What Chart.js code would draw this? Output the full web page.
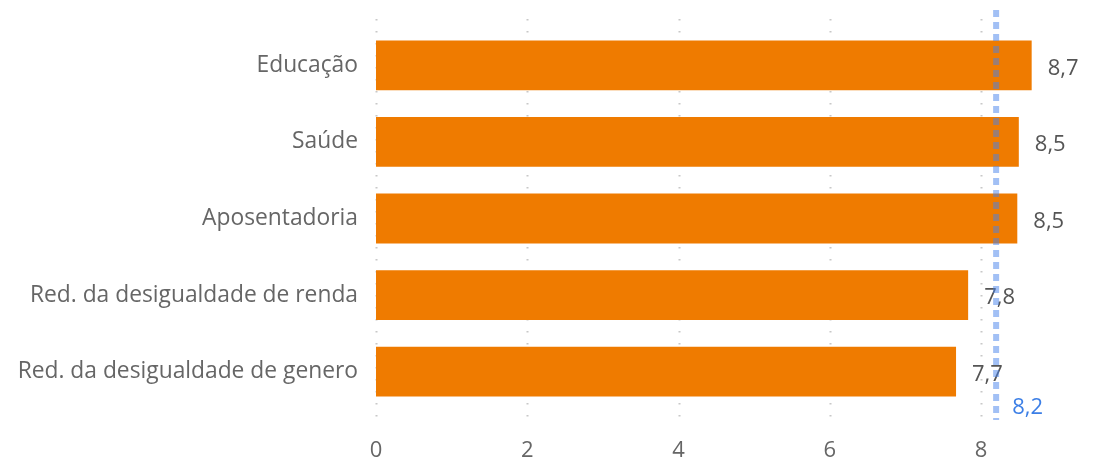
<!DOCTYPE html>
<html>
<head>
<meta charset="utf-8">
<script src="https://cdn.jsdelivr.net/npm/chart.js@4/dist/chart.umd.min.js"></script>
<style>
  html, body { margin: 0; padding: 0; background: #fff; }
  #wrap { width: 1107px; height: 466px; }
</style>
</head>
<body>
<div id="wrap"><canvas id="c"></canvas></div>
<script>
// dados
const categorias = ['Educação', 'Saúde', 'Aposentadoria', 'Red. da desigualdade de renda', 'Red. da desigualdade de genero'];
const valores = [8.67, 8.5, 8.48, 7.83, 7.67];
const rotulos = ['8,7', '8,5', '8,5', '7,8', '7,7'];
const media = 8.2;
const rotuloMedia = '8,2';
const ticksX = [0, 2, 4, 6, 8];

const FONT = "'Open Sans', 'Noto Sans', sans-serif";
const FS = 22;

// grade pontilhada + linha da média + rótulos
const extras = {
    id: 'extras',
    beforeDatasetsDraw(chart) {
        const { ctx, chartArea, scales } = chart;
        ctx.save();
        ctx.strokeStyle = '#c8c8c8';
        ctx.lineWidth = 2;
        ctx.setLineDash([1.5, 10.5]);
        ticksX.forEach(t => {
            const x = Math.round(scales.x.getPixelForValue(t)) + 0.5;
            ctx.beginPath();
            ctx.moveTo(x, chartArea.top - 8);
            ctx.lineTo(x, chartArea.bottom + 12);
            ctx.stroke();
        });
        ctx.restore();
    },
    afterDatasetsDraw(chart) {
        const { ctx, chartArea, scales } = chart;
        const meta = chart.getDatasetMeta(0);
        ctx.save();
        // rótulos das barras
        ctx.font = FS + 'px ' + FONT;
        ctx.fillStyle = '#555555';
        ctx.textAlign = 'left';
        ctx.textBaseline = 'middle';
        meta.data.forEach((bar, i) => {
            ctx.fillText(rotulos[i], bar.x + 16, bar.y + 3);
        });
        // linha da média
        const xm = scales.x.getPixelForValue(media);
        ctx.strokeStyle = 'rgba(70, 130, 235, 0.5)';
        ctx.lineWidth = 6;
        ctx.setLineDash([7, 5]);
        ctx.beginPath();
        ctx.moveTo(xm, chartArea.top - 17);
        ctx.lineTo(xm, chartArea.bottom + 10);
        ctx.stroke();
        ctx.setLineDash([]);
        ctx.fillStyle = '#3c7fe6';
        ctx.fillText(rotuloMedia, xm + 16, chartArea.bottom - 2);
        ctx.restore();
    }
};

new Chart(document.getElementById('c'), {
    type: 'bar',
    data: {
        labels: categorias,
        datasets: [{
            data: valores,
            backgroundColor: '#EF7B00',
            borderWidth: 0,
            categoryPercentage: 1,
            barPercentage: 0.65
        }]
    },
    options: {
        indexAxis: 'y',
        responsive: true,
        maintainAspectRatio: false,
        animation: false,
        layout: { padding: { top: 27, right: 5, bottom: 0, left: 0 } },
        plugins: {
            legend: { display: false },
            tooltip: { enabled: false }
        },
        scales: {
            x: {
                min: 0,
                max: 9.6,
                afterBuildTicks(scale) {
                    scale.ticks = ticksX.map(v => ({ value: v }));
                },
                afterFit(scale) {
                    scale.height = 56;
                    scale.paddingLeft = 0;
                    scale.paddingRight = 0;
                },
                grid: { display: false, drawTicks: false },
                border: { display: false },
                ticks: {
                    padding: 28,
                    color: '#666666',
                    font: { family: FONT, size: FS },
                    callback: v => String(v)
                }
            },
            y: {
                afterFit(scale) {
                    scale.width = 376;
                    scale.paddingTop = 0;
                    scale.paddingBottom = 0;
                },
                grid: { display: false, drawTicks: false },
                border: { display: false },
                ticks: {
                    padding: 18,
                    color: '#666666',
                    font: { family: FONT, size: 22.8 }
                }
            }
        }
    },
    plugins: [extras]
});
</script>
</body>
</html>
